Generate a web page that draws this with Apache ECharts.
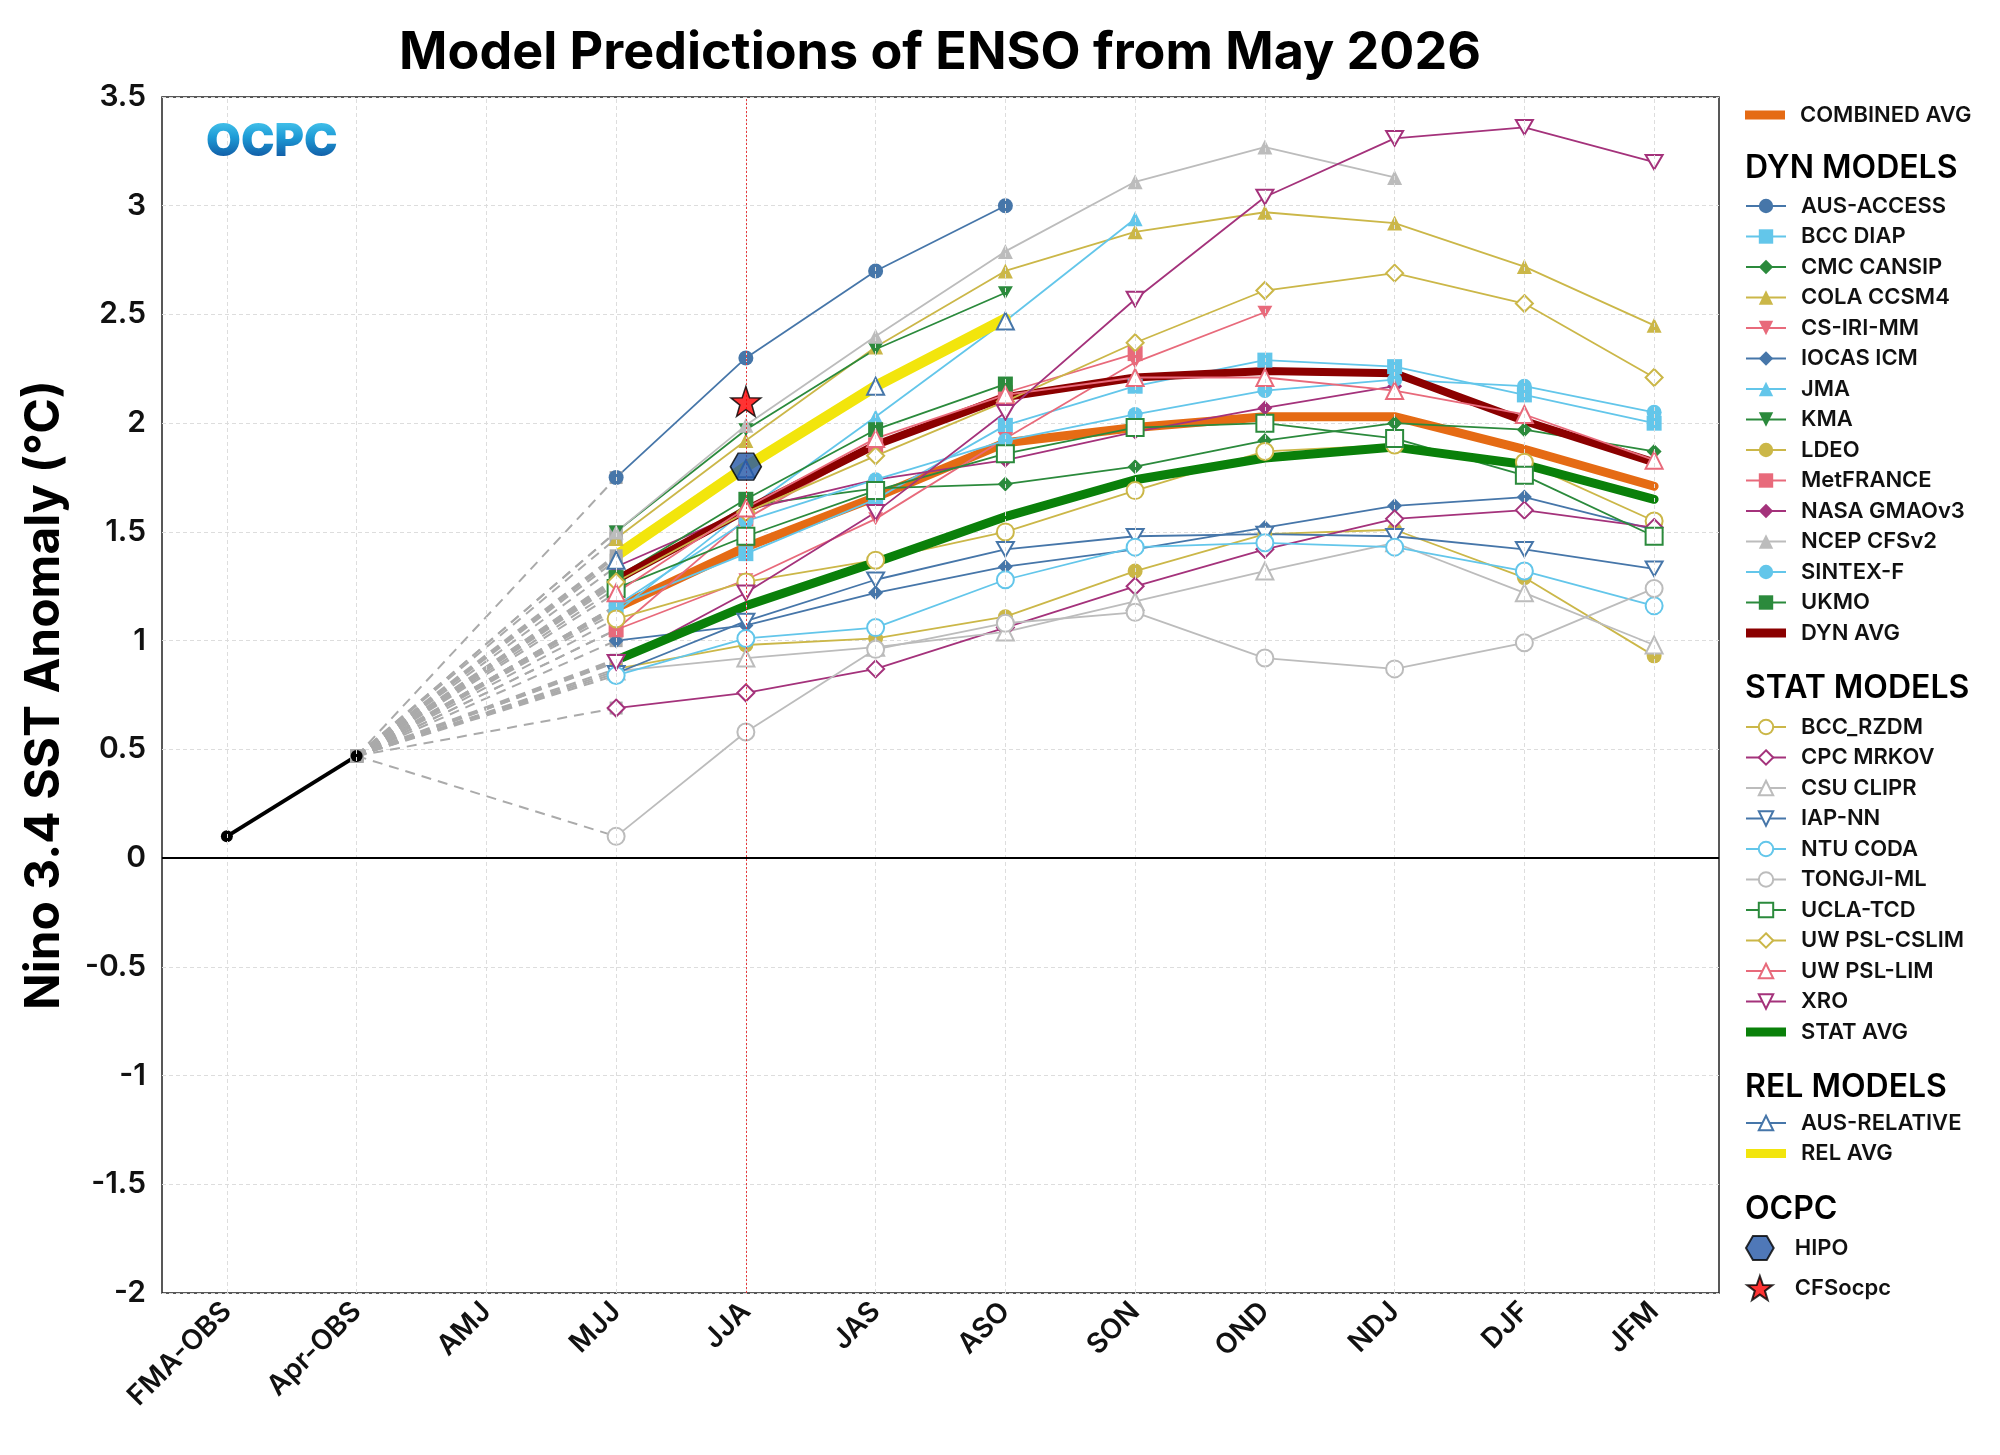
<!DOCTYPE html>
<html>
<head>
<meta charset="utf-8">
<script src="https://cdn.jsdelivr.net/npm/echarts@6/dist/echarts.min.js"></script>
<style>
  html, body { margin: 0; padding: 0; background: #fff; }
  #wrap { position: relative; width: 2000px; height: 1455px; }
  #chart { width: 2000px; height: 1455px; }
  #logo {
    position: absolute; left: 206px; top: 112px; line-height: 56px;
    font-family: Inter, "Noto Sans", sans-serif; font-size: 45px; font-weight: 900;
    background: linear-gradient(to bottom, #5cdaf7 0%, #1d9bd6 45%, #0b3a8c 100%);
    -webkit-background-clip: text; background-clip: text; color: transparent;
  }
</style>
</head>
<body>
<div id="wrap">
  <div id="chart"></div>
  <div id="logo">OCPC</div>
</div>
<script>
// categories
var seasons = ['FMA-OBS', 'Apr-OBS', 'AMJ', 'MJJ', 'JJA', 'JAS', 'ASO', 'SON', 'OND', 'NDJ', 'DJF', 'JFM'];

// observed (FMA-OBS, Apr-OBS)
var observed = [0.10, 0.47];

// forecasts, MJJ .. JFM
var ausAccess  = [1.75, 2.30, 2.70, 3.00];
var bccDiap    = [1.16, 1.40, 1.65, 1.99, 2.17, 2.29, 2.26, 2.13, 2.00];
var cmcCansip  = [1.26, 1.62, 1.70, 1.72, 1.80, 1.92, 2.00, 1.97, 1.87];
var colaCcsm4  = [1.47, 1.92, 2.35, 2.70, 2.88, 2.97, 2.92, 2.72, 2.45];
var csIriMm    = [1.05, 1.28, 1.56, 1.93, 2.28, 2.51];
var iocasIcm   = [1.00, 1.07, 1.22, 1.34, 1.42, 1.52, 1.62, 1.66, 1.51];
var jma        = [1.13, 1.60, 2.03, 2.47, 2.94];
var kma        = [1.50, 1.97, 2.34, 2.60];
var ldeo       = [0.87, 0.98, 1.01, 1.11, 1.32, 1.49, 1.51, 1.29, 0.93];
var metFrance  = [1.05, 1.56, 1.90, 2.14, 2.32];
var nasaGmao   = [1.34, 1.60, 1.74, 1.83, 1.96, 2.07, 2.17];
var ncepCfs    = [1.50, 1.99, 2.40, 2.79, 3.11, 3.27, 3.13];
var sintexF    = [1.16, 1.55, 1.74, 1.92, 2.04, 2.15, 2.20, 2.17, 2.05];
var ukmo       = [1.29, 1.65, 1.97, 2.18];
var dynAvg     = [1.28, 1.60, 1.90, 2.12, 2.21, 2.24, 2.23, 2.01, 1.82];

var bccRzdm    = [1.10, 1.27, 1.37, 1.50, 1.69, 1.87, 1.90, 1.82, 1.55];
var cpcMrkov   = [0.69, 0.76, 0.87, 1.06, 1.25, 1.42, 1.56, 1.60, 1.52];
var csuClipr   = [0.86, 0.92, 0.97, 1.04, 1.18, 1.32, 1.45, 1.22, 0.98];
var iapNn      = [0.85, 1.09, 1.28, 1.42, 1.48, 1.49, 1.48, 1.42, 1.33];
var ntuCoda    = [0.84, 1.01, 1.06, 1.28, 1.43, 1.45, 1.43, 1.32, 1.16];
var tongjiMl   = [0.10, 0.58, 0.96, 1.08, 1.13, 0.92, 0.87, 0.99, 1.24];
var uclaTcd    = [1.24, 1.48, 1.69, 1.86, 1.98, 2.00, 1.93, 1.76, 1.48];
var uwCslim    = [1.27, 1.59, 1.85, 2.10, 2.37, 2.61, 2.69, 2.55, 2.21];
var uwLim      = [1.22, 1.61, 1.93, 2.13, 2.21, 2.21, 2.15, 2.04, 1.83];
var xro        = [0.90, 1.22, 1.59, 2.05, 2.57, 3.04, 3.31, 3.36, 3.20];
var statAvg    = [0.91, 1.16, 1.36, 1.57, 1.74, 1.84, 1.89, 1.81, 1.65];

var ausRelative = [1.37, 1.79, 2.17, 2.47];
var relAvg      = [1.39, 1.80, 2.17, 2.48];
var combinedAvg = [1.15, 1.43, 1.66, 1.91, 1.98, 2.03, 2.03, 1.88, 1.71];

var hipo = 1.80;     // JJA
var cfsOcpc = 2.10;  // JJA

var FONT = 'Inter, "Noto Sans", sans-serif';
var C_BLUE = '#4676a9', C_LBLUE = '#63c6ea', C_GREEN = '#2b8a3c', C_GOLD = '#cbb748',
    C_PINK = '#e86a7b', C_MAG = '#a4327b', C_GRAY = '#bcbcbc';
var DOWN = 'path://M0,0L20,0L10,17.32Z';
var HEX = 'path://M10,0L30,0L40,17.32L30,34.64L10,34.64L0,17.32Z';
var STAR = 'path://M50,0L61.76,33.82L97.55,34.55L69.02,56.18L79.39,90.45L50,70L20.61,90.45L30.98,56.18L2.45,34.55L38.24,33.82Z';
var BAR = 'path://M0,0L40,0L40,9L0,9Z';

function pad(vals) {
    var out = [null, null, null].concat(vals);
    while (out.length < seasons.length) out.push(null);
    return out;
}

//模型线
function model(name, vals, color, symbol, open) {
    return {
        name: name, type: 'line', data: pad(vals),
        symbol: symbol, symbolSize: open ? 17 : 15, symbolKeepAspect: true,
        lineStyle: {color: color, width: 1.8},
        itemStyle: {color: open ? '#fff' : color, borderColor: color, borderWidth: open ? 2 : 0},
        emphasis: {disabled: true}
    };
}
//平均线
function avg(name, vals, color, width) {
    return {
        name: name, type: 'line', data: pad(vals), symbol: 'none',
        lineStyle: {color: color, width: width, join: 'round', cap: 'round'},
        itemStyle: {color: color},
        emphasis: {disabled: true}
    };
}
//虚线连接 Apr-OBS
function connector(first, width) {
    var d = seasons.map(function () { return null; });
    d[1] = observed[1];
    d[3] = first;
    return {
        type: 'line', data: d, connectNulls: true, symbol: 'rect', symbolSize: 13,
        showSymbol: true, silent: true,
        lineStyle: {color: '#aaaaaa', width: width, type: [10, 7]},
        itemStyle: {color: '#aaaaaa'}
    };
}

var combinedSeries = avg('COMBINED AVG', combinedAvg, '#e56b14', 9);
var dynSeries = [
    model('AUS-ACCESS', ausAccess, C_BLUE, 'circle'),
    model('BCC DIAP', bccDiap, C_LBLUE, 'rect'),
    model('CMC CANSIP', cmcCansip, C_GREEN, 'diamond'),
    model('COLA CCSM4', colaCcsm4, C_GOLD, 'triangle'),
    model('CS-IRI-MM', csIriMm, C_PINK, DOWN),
    model('IOCAS ICM', iocasIcm, C_BLUE, 'diamond'),
    model('JMA', jma, C_LBLUE, 'triangle'),
    model('KMA', kma, C_GREEN, DOWN),
    model('LDEO', ldeo, C_GOLD, 'circle'),
    model('MetFRANCE', metFrance, C_PINK, 'rect'),
    model('NASA GMAOv3', nasaGmao, C_MAG, 'diamond'),
    model('NCEP CFSv2', ncepCfs, C_GRAY, 'triangle'),
    model('SINTEX-F', sintexF, C_LBLUE, 'circle'),
    model('UKMO', ukmo, C_GREEN, 'rect'),
    avg('DYN AVG', dynAvg, '#8b0000', 8)
];
var statSeries = [
    model('BCC_RZDM', bccRzdm, C_GOLD, 'circle', true),
    model('CPC MRKOV', cpcMrkov, C_MAG, 'diamond', true),
    model('CSU CLIPR', csuClipr, C_GRAY, 'triangle', true),
    model('IAP-NN', iapNn, C_BLUE, DOWN, true),
    model('NTU CODA', ntuCoda, C_LBLUE, 'circle', true),
    model('TONGJI-ML', tongjiMl, C_GRAY, 'circle', true),
    model('UCLA-TCD', uclaTcd, C_GREEN, 'rect', true),
    model('UW PSL-CSLIM', uwCslim, C_GOLD, 'diamond', true),
    model('UW PSL-LIM', uwLim, C_PINK, 'triangle', true),
    model('XRO', xro, C_MAG, DOWN, true),
    avg('STAT AVG', statAvg, '#0a800a', 9)
];
var relSeries = [
    model('AUS-RELATIVE', ausRelative, C_BLUE, 'triangle', true),
    avg('REL AVG', relAvg, '#f2e50c', 11)
];

var connectors = [];
[combinedSeries].concat(dynSeries, statSeries, relSeries).forEach(function (s) {
    var first = s.data[3];
    if (first == null) return;
    connectors.push(connector(first, s.symbol === 'none' ? 4 : 2));
});

var background = {
    type: 'line', data: [], silent: true,
    markLine: {
        silent: true, symbol: 'none', label: {show: false}, animation: false,
        data: seasons.map(function (s) {
            return {xAxis: s, lineStyle: {color: '#dddddd', width: 1, type: [4, 3]}};
        }).concat([
            {xAxis: 'JJA', lineStyle: {color: '#e8393c', width: 1, type: [2, 2]}},
            {yAxis: 0, lineStyle: {color: '#000', width: 2, type: 'solid'}}
        ])
    }
};

var obsSeries = {
    type: 'line', data: observed, symbol: 'circle', symbolSize: 12, silent: true,
    lineStyle: {color: '#000', width: 4},
    itemStyle: {color: '#000'}
};

var ocpcSeries = [
    {name: 'HIPO', type: 'scatter', symbol: HEX, symbolSize: [31, 27], z: 5,
     data: [['JJA', hipo]], itemStyle: {color: '#2356a6', borderColor: '#000', borderWidth: 1.5}},
    {name: 'CFSocpc', type: 'scatter', symbol: STAR, symbolSize: 30, z: 5,
     data: [['JJA', cfsOcpc]], itemStyle: {color: '#ff0000', borderColor: '#000', borderWidth: 1.5}}
];

var legendText = {fontFamily: FONT, fontSize: 22, fontWeight: 600, color: '#111', padding: [0, 0, 0, 10]};
function legendItems(list) {
    return list.map(function (s) {
        if (s.symbol === 'none') return {name: s.name, icon: BAR};
        return s.name;
    });
}
function legend(list, top, h, gap) {
    return {
        data: legendItems(list), orient: 'vertical', left: 1745, top: top, padding: 0,
        itemWidth: 40, itemHeight: h, itemGap: gap, selectedMode: false,
        textStyle: legendText
    };
}

function header(text, y) {
    return {type: 'text', x: 1745, y: y,
        style: {text: text, fontFamily: FONT, fontSize: 32, fontWeight: 600, fill: '#000',
            align: 'left', verticalAlign: 'middle'}};
}

var myChart = echarts.init(document.getElementById('chart'));
myChart.setOption({
    animation: false,
    backgroundColor: '#fff',
    grid: {left: 162, right: 281, top: 97, bottom: 162, show: true, borderColor: '#222', borderWidth: 1.5},
    xAxis: {
        type: 'category', data: seasons, boundaryGap: true,
        axisLine: {show: false}, axisTick: {show: false}, splitLine: {show: false},
        axisLabel: {rotate: 45, margin: 14, fontFamily: FONT, fontSize: 28, fontWeight: 600, color: '#111'}
    },
    yAxis: {
        type: 'value', min: -2, max: 3.5, interval: 0.5,
        name: 'Nino 3.4 SST Anomaly (°C)', nameLocation: 'middle', nameGap: 93,
        nameTextStyle: {fontFamily: FONT, fontSize: 48, fontWeight: 'bold', color: '#000'},
        axisLine: {show: false}, axisTick: {show: false},
        splitLine: {lineStyle: {color: '#dddddd', width: 1, type: [4, 3]}},
        axisLabel: {margin: 16, fontFamily: FONT, fontSize: 30, fontWeight: 600, color: '#111'}
    },
    legend: [
        legend([combinedSeries], 104, 18, 8.5),
        legend(dynSeries, 195, 18, 8.5),
        legend(statSeries, 716, 18, 8.5),
        legend(relSeries, 1112, 18, 8.5),
        {data: ['HIPO', 'CFSocpc'], orient: 'vertical', left: 1745, top: 1235, padding: 0,
         itemWidth: 40, itemHeight: 24, itemGap: 14, selectedMode: false, textStyle: legendText}
    ],
    graphic: [
        {type: 'text', x: 940, y: 53,
         style: {text: 'Model Predictions of ENSO from May 2026', fontFamily: FONT, fontSize: 52,
             fontWeight: 'bold', fill: '#000', align: 'center', verticalAlign: 'middle'}},
        header('DYN MODELS', 168),
        header('STAT MODELS', 688),
        header('REL MODELS', 1087),
        header('OCPC', 1209)
    ],
    series: [background].concat(connectors, [obsSeries, combinedSeries],
        dynSeries, statSeries, relSeries, ocpcSeries)
});
</script>
</body>
</html>
